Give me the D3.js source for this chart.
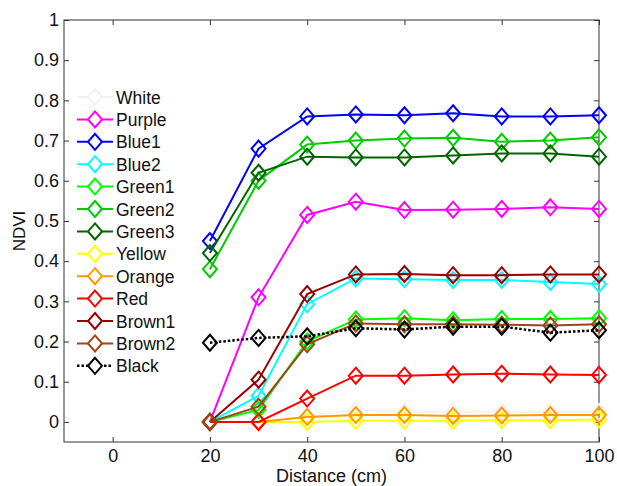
<!DOCTYPE html>
<html lang="en">
<head>
<meta charset="UTF-8">
<title>NDVI vs distance</title>
<script src="https://d3js.org/d3.v7.min.js"></script>
<style>
  body { margin: 0; background: #fff; }
  svg text { font-family: "Liberation Sans", Arial, sans-serif; fill: #111; }
</style>
</head>
<body>
<svg id="chart" width="617" height="486"></svg>
<script>
// distances (cm)
const distances = [20, 30, 40, 50, 60, 70, 80, 90, 100];

const seriesNames = ["White", "Purple", "Blue1", "Blue2", "Green1", "Green2", "Green3",
                     "Yellow", "Orange", "Red", "Brown1", "Brown2", "Black"];
const seriesColors = ["#f2f2f2", "#ff00ff", "#0000ff", "#00ffff", "#00ff00", "#00cc00", "#006400",
                      "#ffff00", "#ff9900", "#ff0000", "#990000", "#a0441a", "#000000"];

const white  = [0, 0, 0.015, 0.03, 0.025, 0.025, 0.025, 0.025, 0.025];
const purple = [0, 0.31, 0.515, 0.548, 0.527, 0.528, 0.53, 0.534, 0.53];
const blue1  = [0.45, 0.68, 0.76, 0.765, 0.763, 0.768, 0.76, 0.76, 0.763];
const blue2  = [0, 0.065, 0.293, 0.357, 0.355, 0.353, 0.353, 0.348, 0.343];
const green1 = [0, 0.03, 0.2, 0.255, 0.258, 0.253, 0.256, 0.256, 0.258];
const green2 = [0.38, 0.6, 0.69, 0.7, 0.705, 0.707, 0.697, 0.7, 0.708];
const green3 = [0.42, 0.62, 0.66, 0.658, 0.658, 0.663, 0.668, 0.668, 0.66];
const yellow = [0, 0, 0, 0.003, 0.003, 0.003, 0.004, 0.004, 0.006];
const orange = [0, 0, 0.012, 0.017, 0.017, 0.015, 0.016, 0.017, 0.017];
const red    = [0, 0, 0.058, 0.115, 0.115, 0.118, 0.12, 0.118, 0.117];
const brown1 = [0, 0.105, 0.318, 0.367, 0.368, 0.365, 0.365, 0.367, 0.367];
const brown2 = [0, 0.038, 0.193, 0.245, 0.243, 0.243, 0.242, 0.24, 0.243];
const black  = [0.197, 0.209, 0.213, 0.233, 0.23, 0.237, 0.237, 0.222, 0.228];

const allValues = [white, purple, blue1, blue2, green1, green2, green3,
                   yellow, orange, red, brown1, brown2, black];

const xTicks = [0, 20, 40, 60, 80, 100];
const yTicks = [0, 0.1, 0.2, 0.3, 0.4, 0.5, 0.6, 0.7, 0.8, 0.9, 1];

const margin = {top: 20, right: 18, bottom: 44, left: 64},
    width = 617 - margin.left - margin.right,
    height = 486 - margin.top - margin.bottom;

const svg = d3.select("#chart");
const g = svg.append("g")
    .attr("transform", "translate(" + margin.left + "," + margin.top + ")");

const x = d3.scaleLinear().domain([-10, 100]).range([0, width]);
const y = d3.scaleLinear().domain([-0.05, 1]).range([height, 0]);

// box
g.append("rect")
    .attr("width", width).attr("height", height)
    .attr("fill", "none").attr("stroke", "#333").attr("stroke-width", 1);

// axes with inward ticks (matlab style)
const fmtY = d => d === 0 ? "0" : (d === 1 ? "1" : d.toFixed(1));
g.append("g").attr("transform", "translate(0," + height + ")")
    .call(d3.axisBottom(x).tickValues(xTicks).tickSize(-5).tickPadding(7))
    .call(a => a.select(".domain").remove());
g.append("g")
    .call(d3.axisTop(x).tickValues(xTicks).tickSize(-5).tickFormat(""))
    .call(a => a.select(".domain").remove());
g.append("g")
    .call(d3.axisLeft(y).tickValues(yTicks).tickSize(-5).tickPadding(5).tickFormat(fmtY))
    .call(a => a.select(".domain").remove());
g.append("g").attr("transform", "translate(" + width + ",0)")
    .call(d3.axisRight(y).tickValues(yTicks).tickSize(-5).tickFormat(""))
    .call(a => a.select(".domain").remove());

g.selectAll(".tick line").attr("stroke", "#333");
g.selectAll(".tick text").style("font-size", "18px").attr("fill", "#111");

// axis labels
svg.append("text")
    .attr("x", margin.left + x(45)).attr("y", 482)
    .attr("text-anchor", "middle").style("font-size", "18px")
    .text("Distance (cm)");
svg.append("text")
    .attr("transform", "translate(25," + (margin.top + y(0.475)) + ") rotate(-90)")
    .attr("text-anchor", "middle").style("font-size", "17px")
    .text("NDVI");

const line = d3.line().x((d, i) => x(distances[i])).y(d => y(d));

const diamond = (cx, cy) => {
  const w = 7, h = 8;
  return `M${cx},${cy - h}L${cx + w},${cy}L${cx},${cy + h}L${cx - w},${cy}Z`;
};

allValues.forEach((vals, k) => {
  const col = seriesColors[k];
  const dashed = seriesNames[k] === "Black";
  const s = g.append("g");
  s.append("path")
      .attr("d", line(vals))
      .attr("fill", "none")
      .attr("stroke", col)
      .attr("stroke-width", dashed ? 2.5 : 2)
      .attr("stroke-dasharray", dashed ? "2.5,2" : null);
  s.selectAll("path.m")
      .data(vals)
      .join("path")
      .attr("class", "m")
      .attr("d", (d, i) => diamond(x(distances[i]), y(d)))
      .attr("fill", "none")
      .attr("stroke", col)
      .attr("stroke-width", 2);
});

// legend
const legend = svg.append("g").attr("transform", "translate(77,97)");
seriesNames.forEach((name, k) => {
  const row = legend.append("g").attr("transform", "translate(0," + (k * 22.4) + ")");
  const dashed = name === "Black";
  row.append("line")
      .attr("x1", 0).attr("x2", 36).attr("y1", 0).attr("y2", 0)
      .attr("stroke", seriesColors[k])
      .attr("stroke-width", dashed ? 2.5 : 2)
      .attr("stroke-dasharray", dashed ? "2.5,2" : null);
  row.append("path")
      .attr("d", diamond(18, 0))
      .attr("fill", "#fff")
      .attr("stroke", seriesColors[k])
      .attr("stroke-width", 2);
  row.append("text")
      .attr("x", 39).attr("y", 6.5)
      .style("font-size", "17.5px")
      .text(name);
});
</script>
</body>
</html>
